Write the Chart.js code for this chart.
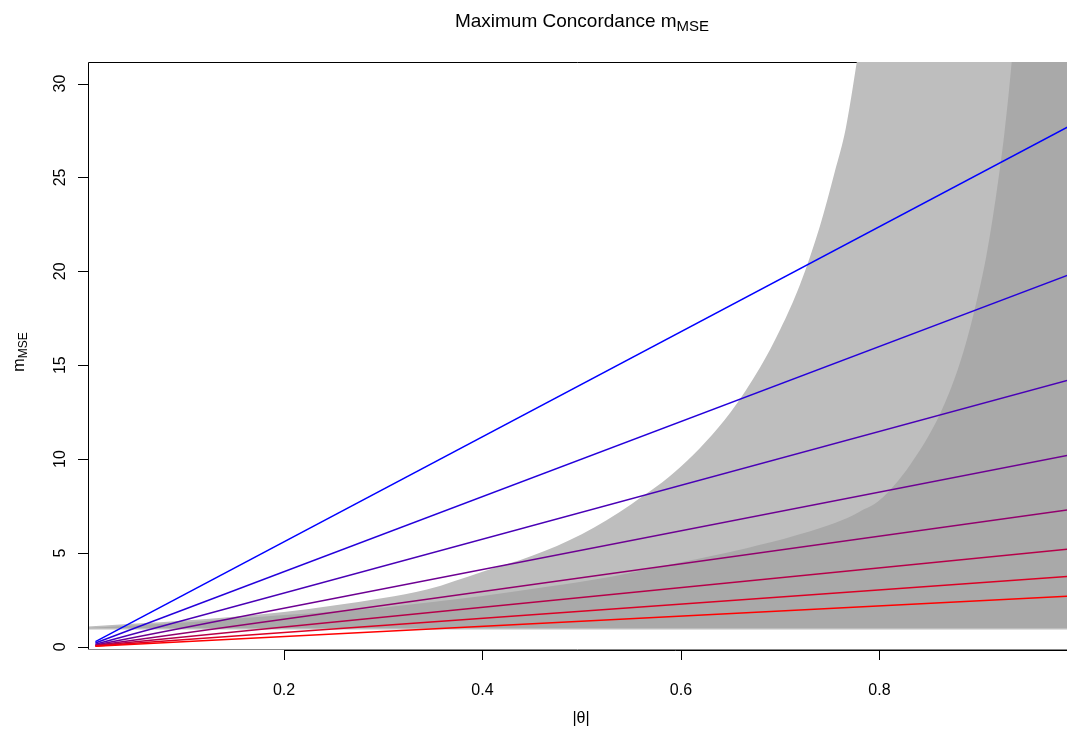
<!DOCTYPE html>
<html>
<head>
<meta charset="utf-8">
<script src="https://cdn.jsdelivr.net/npm/chart.js@4.4.1/dist/chart.umd.min.js"></script>
<style>
  html, body { margin: 0; padding: 0; background: #fff; }
</style>
</head>
<body>
<canvas id="chart" width="1067" height="731"></canvas>
<script>
// straight m_MSE lines, from |theta| = 0.01 to 0.99
const lineTheta = [0.01, 0.99];
const lineStart = [0.28, 0.20, 0.14, 0.10, 0.07, 0.05, 0.04, 0.03];
const lineEnd = [27.7, 19.8, 14.2, 10.2, 7.3, 5.2, 3.75, 2.7];
const lineColors = ['#0000FF', '#2400DB', '#4900B6', '#6D0092', '#92006D', '#B60049', '#DB0024', '#FF0000'];

// light grey region (upper edge, floor)
const lightTheta = [0, 0.1, 0.2, 0.3, 0.344, 0.4, 0.45, 0.5, 0.55, 0.6, 0.65, 0.68, 0.7, 0.72, 0.74, 0.755, 0.766, 0.777, 0.79, 0.99];
const lightUpper = [1.08, 1.4, 1.86, 2.6, 3.05, 4.0, 4.85, 6.0, 7.6, 9.6, 12.5, 14.9, 16.9, 19.3, 22.4, 25.3, 27.6, 31.1, 35.8, 36];
const lightFloor = 0.92;

// dark grey region (upper edge, floor)
const darkTheta = [0, 0.1, 0.2, 0.3, 0.4, 0.465, 0.531, 0.6, 0.666, 0.717, 0.767, 0.78, 0.8, 0.831, 0.861, 0.881, 0.895, 0.908, 0.918, 0.926, 0.933, 0.94, 0.99];
const darkUpper = [1.0, 1.3, 1.69, 2.1, 2.7, 3.2, 3.75, 4.5, 5.25, 5.95, 6.85, 7.2, 7.8, 9.7, 12.4, 15.1, 17.75, 20.9, 24.2, 27.4, 31.0, 35.6, 36];
const darkFloor = 1.0;

const xTicks = [0.2, 0.4, 0.6, 0.8];
const yTicks = [0, 5, 10, 15, 20, 25, 30];

const FONT = '"Liberation Sans", Arial, Helvetica, sans-serif';

const toPoints = (xs, ys) => xs.map((x, i) => ({ x: x, y: ys[i] }));

const datasets = [];

datasets.push({
    data: toPoints(lightTheta, lightUpper),
    borderWidth: 0,
    pointRadius: 0,
    backgroundColor: '#BEBEBE',
    fill: { value: lightFloor },
    cubicInterpolationMode: 'monotone',
    order: 20
});
datasets.push({
    data: toPoints(darkTheta, darkUpper),
    borderWidth: 0,
    pointRadius: 0,
    backgroundColor: '#A9A9A9',
    fill: { value: darkFloor },
    cubicInterpolationMode: 'monotone',
    order: 19
});
lineStart.forEach((v, i) => {
    datasets.push({
        data: toPoints(lineTheta, [v, lineEnd[i]]),
        borderColor: lineColors[i],
        borderWidth: 1.5,
        pointRadius: 0,
        fill: false,
        order: 10 - i
    });
});

// R-style box, axes and titles
const rAxes = {
    id: 'rAxes',
    beforeDatasetsDraw(chart) {
        const { ctx, chartArea: a } = chart;
        ctx.save();
        ctx.strokeStyle = '#000';
        ctx.lineWidth = 1;
        ctx.beginPath();
        ctx.moveTo(a.left + 0.5, a.bottom);
        ctx.lineTo(a.left + 0.5, a.top + 0.5);
        ctx.lineTo(a.right, a.top + 0.5);
        ctx.stroke();
        ctx.strokeStyle = '#888';
        ctx.beginPath();
        ctx.moveTo(a.left, a.bottom - 0.5);
        ctx.lineTo(a.right, a.bottom - 0.5);
        ctx.stroke();
        ctx.restore();
    },
    afterDraw(chart) {
        const { ctx, chartArea: a, scales: { x, y } } = chart;
        ctx.save();
        ctx.strokeStyle = '#000';
        ctx.fillStyle = '#000';
        ctx.lineWidth = 1;

        // x axis
        ctx.beginPath();
        ctx.moveTo(Math.round(x.getPixelForValue(xTicks[0])) + 0.5, a.bottom + 0.5);
        ctx.lineTo(a.right, a.bottom + 0.5);
        xTicks.forEach(t => {
            const px = Math.round(x.getPixelForValue(t)) + 0.5;
            ctx.moveTo(px, a.bottom);
            ctx.lineTo(px, a.bottom + 10);
        });
        ctx.stroke();
        ctx.font = '16px ' + FONT;
        ctx.textAlign = 'center';
        ctx.textBaseline = 'alphabetic';
        xTicks.forEach(t => {
            ctx.fillText(t.toFixed(1), x.getPixelForValue(t), 695);
        });

        // y axis
        ctx.beginPath();
        ctx.moveTo(a.left + 0.5, Math.round(y.getPixelForValue(yTicks[0])) + 0.5);
        ctx.lineTo(a.left + 0.5, Math.round(y.getPixelForValue(yTicks[yTicks.length - 1])) + 0.5);
        yTicks.forEach(t => {
            const py = Math.round(y.getPixelForValue(t)) + 0.5;
            ctx.moveTo(a.left, py);
            ctx.lineTo(a.left - 10, py);
        });
        ctx.stroke();
        yTicks.forEach(t => {
            ctx.save();
            ctx.translate(65, y.getPixelForValue(t));
            ctx.rotate(-Math.PI / 2);
            ctx.fillText(String(t), 0, 0);
            ctx.restore();
        });

        // x title
        ctx.font = '16px ' + FONT;
        ctx.fillText('|\u03B8|', 581, 723);

        // main title with subscript
        ctx.textAlign = 'left';
        ctx.font = '19px ' + FONT;
        const t1 = 'Maximum Concordance m';
        const w1 = ctx.measureText(t1).width;
        ctx.font = '15px ' + FONT;
        const w2 = ctx.measureText('MSE').width;
        const sx = 582 - (w1 + w2) / 2;
        ctx.font = '19px ' + FONT;
        ctx.fillText(t1, sx, 27);
        ctx.font = '15px ' + FONT;
        ctx.fillText('MSE', sx + w1, 31);

        // y title, rotated, with subscript
        ctx.save();
        ctx.translate(24, 352);
        ctx.rotate(-Math.PI / 2);
        ctx.font = '16px ' + FONT;
        const m1 = ctx.measureText('m').width;
        ctx.font = '12px ' + FONT;
        const m2 = ctx.measureText('MSE').width;
        const s0 = -(m1 + m2) / 2;
        ctx.font = '16px ' + FONT;
        ctx.fillText('m', s0, 0);
        ctx.font = '12px ' + FONT;
        ctx.fillText('MSE', s0 + m1, 3);
        ctx.restore();

        ctx.restore();
    }
};

new Chart(document.getElementById('chart'), {
    type: 'line',
    data: { datasets: datasets },
    options: {
        responsive: false,
        devicePixelRatio: 1,
        animation: false,
        layout: { padding: { left: 88, top: 62, right: 0, bottom: 81 } },
        plugins: {
            legend: { display: false },
            tooltip: { enabled: false },
            title: { display: false }
        },
        scales: {
            x: { type: 'linear', min: 0.0025, max: 0.989, display: false },
            y: { type: 'linear', min: -0.17, max: 31.15, display: false }
        }
    },
    plugins: [rAxes]
});
</script>
</body>
</html>
